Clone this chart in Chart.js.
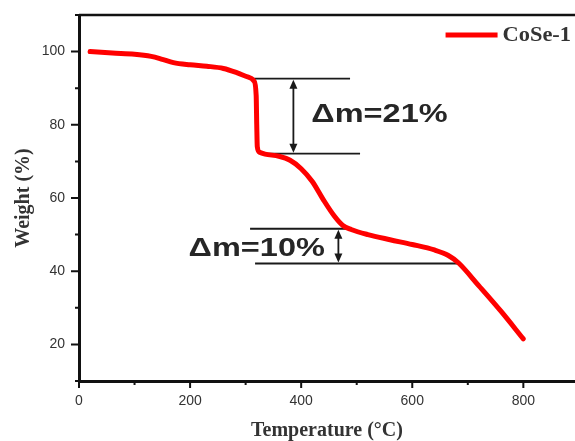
<!DOCTYPE html>
<html>
<head>
<meta charset="utf-8">
<script src="https://cdn.jsdelivr.net/npm/chart.js@4.4.1/dist/chart.umd.min.js"></script>
<style>
  html, body { margin: 0; padding: 0; background: #fff; }
  #wrap { width: 575px; height: 441px; position: relative; }
</style>
</head>
<body>
<div id="wrap"><canvas id="tgaChart"></canvas></div>
<script>
// TGA curve of CoSe-1
const tempC = [20, 60, 100, 130, 150, 170, 200, 230, 260, 285, 305, 315, 319, 320, 321, 325, 335, 360, 380, 400, 420, 440, 460, 475, 490, 520, 560, 600, 640, 665, 683, 720, 760, 800];
const weightPct = [100, 99.6, 99.3, 98.7, 97.9, 97.0, 96.4, 96.0, 95.4, 94.2, 93.0, 92.0, 88, 80, 74, 72.5, 72.0, 71.4, 70.3, 68.0, 64.5, 59.5, 55.0, 52.5, 51.4, 50.0, 48.6, 47.3, 45.8, 44.3, 42.3, 36.0, 29.0, 21.5];
const seriesName = 'CoSe-1';
const xTicks = [0, 100, 200, 300, 400, 500, 600, 700, 800];
const xLabelled = [0, 200, 400, 600, 800];
const yTicks = [10, 20, 30, 40, 50, 60, 70, 80, 90, 100, 110];
const yLabelled = [20, 40, 60, 80, 100];

// mass loss steps: [upper weight, lower weight, label]
const steps = [
    { top: 92.6, bottom: 72.1, text: '\u0394m=21%', topX: [313, 488], bottomX: [326, 506], arrowX: 386, textX: 541, textY: 82.8 },
    { top: 51.6, bottom: 42.1, text: '\u0394m=10%', topX: [308, 488], bottomX: [317, 681], arrowX: 467, textX: 320, textY: 46.2 }
];

const points = tempC.map((t, i) => ({ x: t, y: weightPct[i] }));

function arrowHead(ctx, x, y, dir) {
    ctx.beginPath();
    ctx.moveTo(x, y);
    ctx.lineTo(x - 4, y + dir * 9);
    ctx.lineTo(x + 4, y + dir * 9);
    ctx.closePath();
    ctx.fill();
}

const stepMarks = {
    id: 'stepMarks',
    beforeDatasetsDraw(chart) {
        const ctx = chart.ctx;
        const xs = chart.scales.x, ys = chart.scales.y;
        ctx.save();
        ctx.strokeStyle = '#1a1a1a';
        ctx.fillStyle = '#1a1a1a';
        ctx.lineWidth = 1.8;
        steps.forEach(s => {
            const yt = ys.getPixelForValue(s.top), yb = ys.getPixelForValue(s.bottom);
            ctx.beginPath();
            ctx.moveTo(xs.getPixelForValue(s.topX[0]), yt);
            ctx.lineTo(xs.getPixelForValue(s.topX[1]), yt);
            ctx.moveTo(xs.getPixelForValue(s.bottomX[0]), yb);
            ctx.lineTo(xs.getPixelForValue(s.bottomX[1]), yb);
            const ax = xs.getPixelForValue(s.arrowX);
            ctx.moveTo(ax, yt + 4);
            ctx.lineTo(ax, yb - 4);
            ctx.stroke();
            arrowHead(ctx, ax, yt + 1, 1);
            arrowHead(ctx, ax, yb - 1, -1);

            // label, stretched sideways like the picture
            const tx = xs.getPixelForValue(s.textX), ty = ys.getPixelForValue(s.textY);
            ctx.save();
            ctx.translate(tx, ty);
            ctx.scale(1.3, 1);
            ctx.font = 'bold 25px "Liberation Sans", Arial, sans-serif';
            ctx.fillStyle = '#262626';
            ctx.textAlign = 'center';
            ctx.textBaseline = 'middle';
            ctx.fillText(s.text, 0, 1);
            ctx.restore();
        });
        ctx.restore();
    }
};

const frameTicks = {
    id: 'frameTicks',
    afterDraw(chart) {
        const ctx = chart.ctx;
        const a = chart.chartArea;
        const xs = chart.scales.x, ys = chart.scales.y;
        ctx.save();
        ctx.strokeStyle = '#111';
        ctx.lineWidth = 2.5;
        ctx.beginPath();
        ctx.moveTo(a.left, a.top);
        ctx.lineTo(a.right, a.top);
        ctx.stroke();
        ctx.lineWidth = 2;
        ctx.beginPath();
        xs.ticks.forEach(t => {
            const px = xs.getPixelForValue(t.value);
            const len = xLabelled.includes(t.value) ? 7 : 4;
            ctx.moveTo(px, a.bottom);
            ctx.lineTo(px, a.bottom + len);
        });
        ys.ticks.forEach(t => {
            const py = ys.getPixelForValue(t.value);
            const len = yLabelled.includes(t.value) ? 8 : 4;
            ctx.moveTo(a.left, py);
            ctx.lineTo(a.left - len, py);
        });
        ctx.stroke();

        // legend in the top right corner, taken from the dataset
        const ds = chart.data.datasets[0];
        const ly = a.top + 20;
        const stretch = 1.12;
        ctx.font = 'bold 20px "Liberation Serif", "Times New Roman", serif';
        const tw = ctx.measureText(ds.label).width * stretch;
        const textRight = a.right - 4;
        const lineRight = textRight - tw - 5;
        ctx.strokeStyle = ds.borderColor;
        ctx.lineWidth = ds.borderWidth;
        ctx.lineCap = 'butt';
        ctx.beginPath();
        ctx.moveTo(lineRight - 52, ly);
        ctx.lineTo(lineRight, ly);
        ctx.stroke();
        ctx.translate(textRight - tw, ly + 1);
        ctx.scale(stretch, 1);
        ctx.fillStyle = '#333';
        ctx.textAlign = 'left';
        ctx.textBaseline = 'middle';
        ctx.fillText(ds.label, 0, 0);
        ctx.restore();
    }
};

new Chart(document.getElementById('tgaChart'), {
    type: 'line',
    data: {
        datasets: [{
            label: seriesName,
            data: points,
            borderColor: '#ff0000',
            backgroundColor: '#ff0000',
            borderWidth: 5,
            pointRadius: 0,
            cubicInterpolationMode: 'monotone',
            borderCapStyle: 'round',
            borderJoinStyle: 'round',
            fill: false
        }]
    },
    options: {
        responsive: true,
        maintainAspectRatio: false,
        animation: false,
        layout: { padding: { top: 15, left: 0, right: 0, bottom: 0 } },
        plugins: {
            tooltip: { enabled: false },
            legend: { display: false }
        },
        scales: {
            x: {
                type: 'linear',
                min: 0,
                max: 893,
                afterBuildTicks: s => { s.ticks = xTicks.map(v => ({ value: v })); },
                afterFit: s => { s.height = 60; s.paddingLeft = 0; s.paddingRight = 0; },
                grid: { display: false, drawTicks: false },
                border: { display: true, color: '#111', width: 3 },
                ticks: {
                    autoSkip: false,
                    maxRotation: 0,
                    padding: 12,
                    color: '#333',
                    font: { family: '"Liberation Sans", Arial, sans-serif', size: 14 },
                    callback: v => (xLabelled.includes(v) ? String(v) : '')
                },
                title: {
                    display: true,
                    text: 'Temperature (\u00b0C)',
                    color: '#333',
                    padding: { top: 0, bottom: -2 },
                    font: { family: '"Liberation Serif", "Times New Roman", serif', size: 20, weight: 'bold' }
                }
            },
            y: {
                min: 10,
                max: 110,
                afterBuildTicks: s => { s.ticks = yTicks.map(v => ({ value: v })); },
                afterFit: s => { s.width = 79; s.paddingTop = 0; s.paddingBottom = 0; },
                grid: { display: false, drawTicks: false },
                border: { display: true, color: '#111', width: 3 },
                ticks: {
                    autoSkip: false,
                    padding: 14,
                    color: '#333',
                    font: { family: '"Liberation Sans", Arial, sans-serif', size: 14 },
                    callback: v => (yLabelled.includes(v) ? String(v) : '')
                },
                title: {
                    display: true,
                    text: 'Weight (%)',
                    color: '#333',
                    padding: { top: 12, bottom: 0 },
                    font: { family: '"Liberation Serif", "Times New Roman", serif', size: 20, weight: 'bold' }
                }
            }
        }
    },
    plugins: [stepMarks, frameTicks]
});
</script>
</body>
</html>
